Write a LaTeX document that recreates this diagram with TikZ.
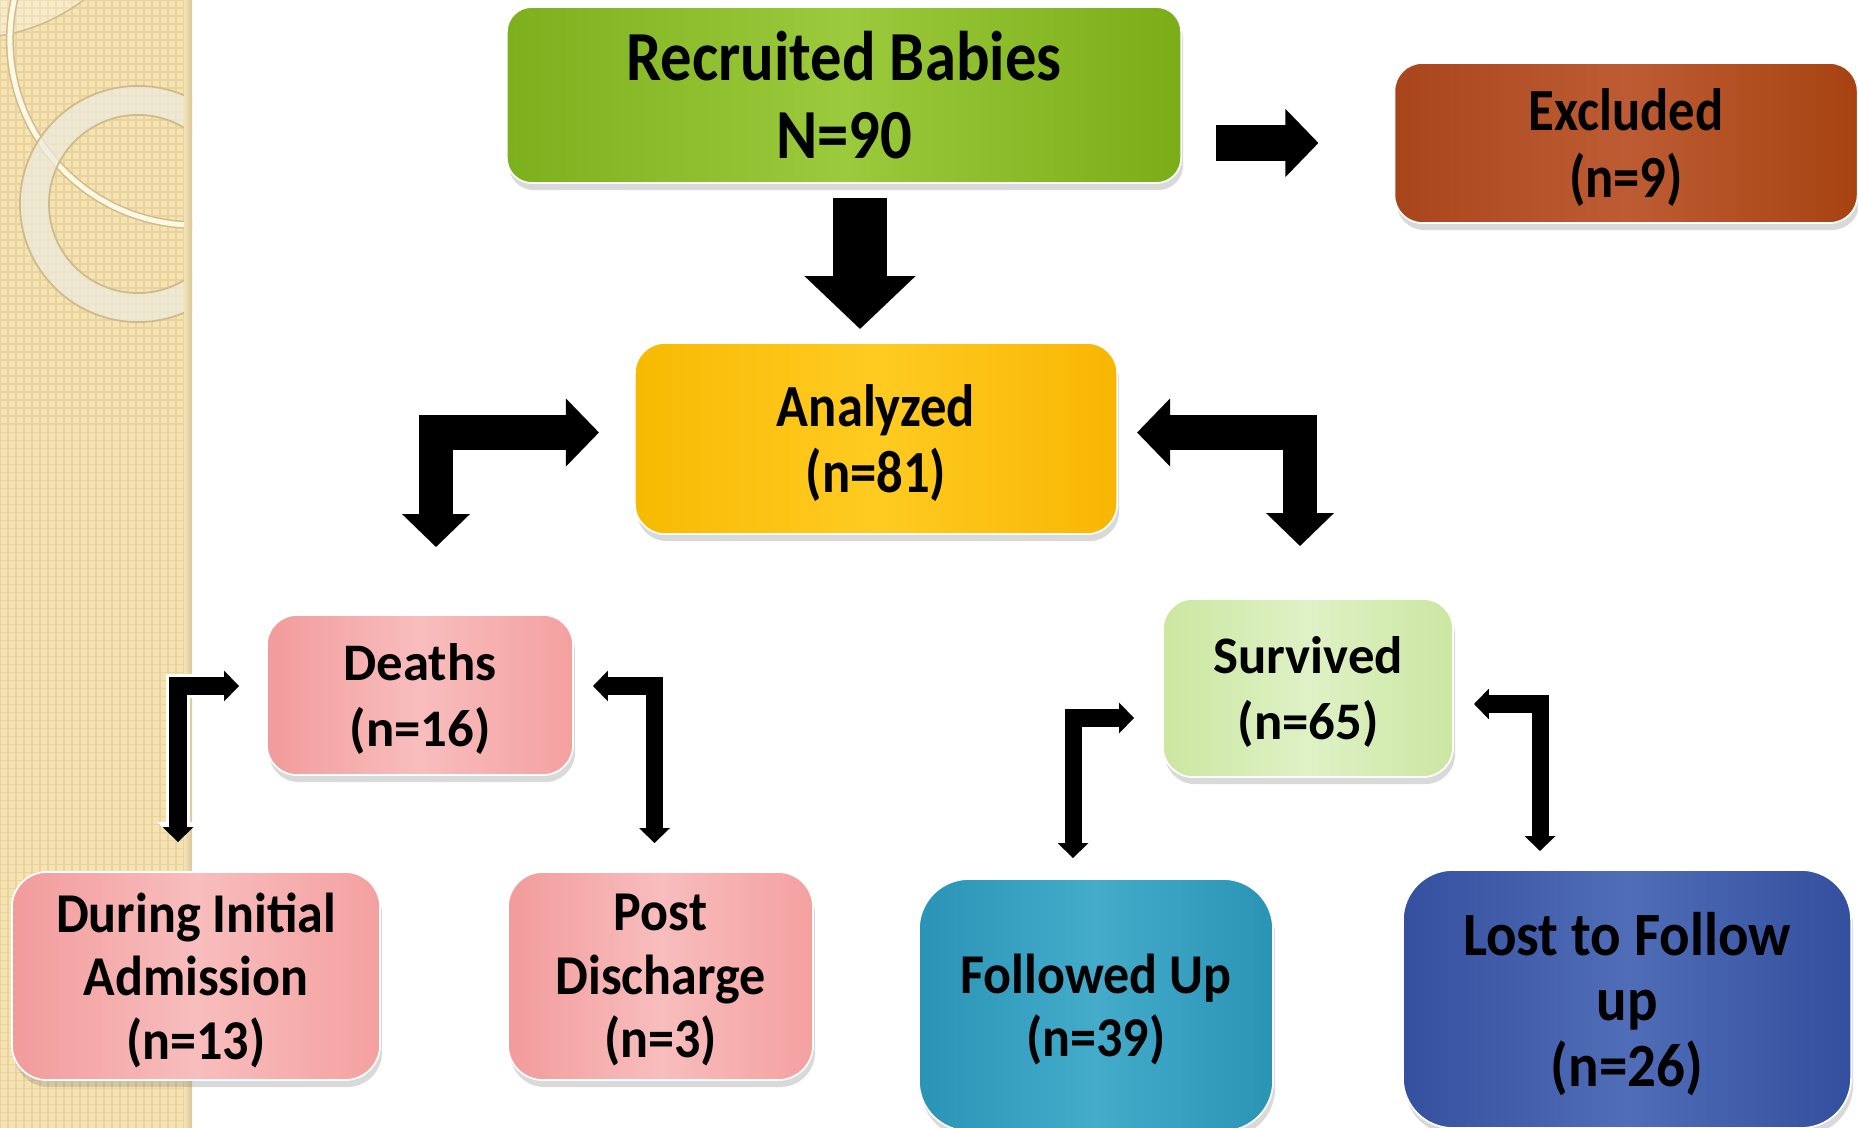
\documentclass[tikz,border=0pt]{standalone}
\usepackage{fontspec}
\setmainfont{Carlito}
\newfontfamily\carrec{Carlito}[FakeStretch=0.89]
\newfontfamily\carmid{Carlito}[FakeStretch=0.88]
\newfontfamily\carlow{Carlito}[FakeStretch=0.925]
\usetikzlibrary{arrows.meta}
\usetikzlibrary{calc}
\usetikzlibrary{shadows}

\definecolor{stripbg}{HTML}{F5E3B3}
\definecolor{stripline}{HTML}{E9D29C}
\definecolor{stripedge}{HTML}{D8C79C}
\definecolor{ringedge}{HTML}{CDBB8C}
\definecolor{ringcream}{HTML}{FFF8E2}
\definecolor{ringfill}{HTML}{EEEADD}

\definecolor{recl}{HTML}{7DB01D}
\definecolor{recm}{HTML}{9BCA3C}
\definecolor{recr}{HTML}{7AAD18}
\definecolor{excl}{HTML}{A9451B}
\definecolor{excm}{HTML}{BD5C34}
\definecolor{excr}{HTML}{A74311}
\definecolor{anal}{HTML}{F7BA02}
\definecolor{anam}{HTML}{FFCB22}
\definecolor{anar}{HTML}{F8B602}
\definecolor{pinkl}{HTML}{F29B9B}
\definecolor{pinkm}{HTML}{F8BDBD}
\definecolor{pinkr}{HTML}{F5A0A0}
\definecolor{survl}{HTML}{CBE7A0}
\definecolor{survm}{HTML}{DFF1C6}
\definecolor{survr}{HTML}{CBE7A1}
\definecolor{folll}{HTML}{2A94B6}
\definecolor{follm}{HTML}{44ABCA}
\definecolor{follr}{HTML}{2A94B5}
\definecolor{lostl}{HTML}{35509E}
\definecolor{lostm}{HTML}{506DB8}
\definecolor{lostr}{HTML}{334F9D}

\newcommand{\fontrec}{\fontsize{20pt}{22pt}\selectfont\carrec\bfseries}
\newcommand{\fontmid}{\fontsize{17pt}{18.8pt}\selectfont\carmid\bfseries}
\newcommand{\fontsub}{\fontsize{15pt}{18.8pt}\selectfont\bfseries}
\newcommand{\fontlow}{\fontsize{16pt}{18pt}\selectfont\carlow\bfseries}
\newcommand{\fontlost}{\fontsize{17.5pt}{18.6pt}\selectfont\carlow\bfseries}

\newlength{\fatw}
\setlength{\fatw}{0.34cm}
\newlength{\thinw}
\setlength{\thinw}{0.17cm}

\tikzset{
  box/.style={align=center, inner sep=0pt, text depth=0pt, draw=white, line width=0.5pt,
    drop shadow={opacity=0.3, shadow xshift=0.02cm, shadow yshift=-0.07cm}},
  shadegreen/.style={left color=recl, right color=recr, middle color=recm},
  shaderust/.style={left color=excl, right color=excr, middle color=excm},
  shadegold/.style={left color=anal, right color=anar, middle color=anam},
  shadepink/.style={left color=pinkl, right color=pinkr, middle color=pinkm},
  shadelime/.style={left color=survl, right color=survr, middle color=survm},
  shadeteal/.style={left color=folll, right color=follr, middle color=follm},
  shadenavy/.style={left color=lostl, right color=lostr, middle color=lostm},
  stripgrid/.style={draw=stripline, line width=0.015cm, step=0.08cm},
  bigdown/.style={line width=0.54cm, -{Triangle[length=0.53cm,width=1.08cm]}},
  fatone/.style={line width=0.35cm, -{Triangle[length=0.33cm,width=0.66cm]}},
  fatbent/.style={line width=\fatw, {Triangle[length=0.33cm,width=0.66cm]}-{Triangle[length=0.33cm,width=0.66cm]}},
  thinbent/.style={line width=\thinw, {Triangle[length=0.15cm,width=0.30cm]}-{Triangle[length=0.15cm,width=0.30cm]}},
  halo/.style={draw=white, line width=0.23cm, {Triangle[length=0.2cm,width=0.40cm]}-{Triangle[length=0.2cm,width=0.40cm]}}
}

\begin{document}
\begin{tikzpicture}[x=0.01cm, y=-0.01cm]
\useasboundingbox (0,0) rectangle (1858,1128);

% side strip
\fill[stripbg] (0,0) rectangle (192,1128);
\draw[stripgrid] (0,0) grid (190,1128);
\begin{scope}
\clip (0,0) rectangle (192,1128);
\fill[white, opacity=0.3] (-30,-150) circle[radius=1.88cm];
\draw[ringedge, line width=0.4pt] (-30,-150) circle[radius=1.88cm];
\draw[ringedge, line width=0.08cm] (195,40) circle[radius=1.85cm];
\draw[ringcream, line width=0.05cm] (195,40) circle[radius=1.85cm];
\fill[ringfill, opacity=0.75, even odd rule] (138,204) circle[radius=1.18cm] (138,204) circle[radius=0.89cm];
\draw[ringedge, line width=0.5pt] (138,204) circle[radius=1.18cm] (138,204) circle[radius=0.89cm];
\end{scope}
\fill[left color=stripbg, right color=stripedge] (184,0) rectangle (192,1128);

% boxes
\node[box, shadegreen, minimum width=6.74cm, minimum height=1.76cm, rounded corners=0.25cm, font=\fontrec] (recruited) at (844,95) {Recruited Babies\\N=90};
\node[box, shaderust, minimum width=4.63cm, minimum height=1.60cm, rounded corners=0.28cm, font=\fontmid] (excluded) at (1626,143) {Excluded\\(n=9)};
\node[box, shadegold, minimum width=4.82cm, minimum height=1.91cm, rounded corners=0.3cm, font=\fontmid] (analyzed) at (876,438.5) {Analyzed\\(n=81)};
\node[box, shadepink, minimum width=3.06cm, minimum height=1.60cm, rounded corners=0.3cm, font=\fontsub] (deaths) at (420,695) {Deaths\\(n=16)};
\node[box, shadelime, minimum width=2.90cm, minimum height=1.78cm, rounded corners=0.3cm, font=\fontsub] (survived) at (1308,688) {Survived\\(n=65)};
\node[box, shadepink, minimum width=3.68cm, minimum height=2.08cm, rounded corners=0.35cm, font=\fontlow] (during) at (196,976) {During Initial\\Admission\\(n=13)};
\node[box, shadepink, minimum width=3.05cm, minimum height=2.08cm, rounded corners=0.35cm, font=\fontlow] (post) at (660.5,976) {Post\\Discharge\\(n=3)};
\node[box, shadeteal, minimum width=3.54cm, minimum height=2.52cm, rounded corners=0.5cm, font=\fontlow] (followed) at (1096,1005) {Followed Up\\(n=39)};
\node[box, shadenavy, minimum width=4.48cm, minimum height=2.58cm, rounded corners=0.5cm, font=\fontlost] (lost) at (1627,999) {Lost to Follow\\up\\(n=26)};

% arrows
\draw[bigdown] ($(recruited.south)+(16,14)$) -- ($(analyzed.north)+(-16,-13)$);
\draw[fatone] ($(recruited.east |- excluded.west)+(34,0)$) -- ($(excluded.west)+(-75,0)$);
\draw[fatbent] ($(analyzed.west)+(-35,-6)$) -| ($(deaths.north)+(16,-67)$);
\draw[fatbent] ($(analyzed.east)+(19,-6)$) -| ($(survived.north)+(-8,-52)$);
\draw[halo] ($(deaths.west)+(-27,-9)$) -| ($(during.north)+(-18,-29)$);
\draw[thinbent] ($(deaths.west)+(-27,-9)$) -| ($(during.north)+(-18,-29)$);
\draw[thinbent] ($(deaths.east)+(19,-9)$) -| ($(post.north)+(-6,-28)$);
\draw[thinbent] ($(survived.west)+(-28,30)$) -| ($(followed.north)+(-23,-20)$);
\draw[thinbent] ($(survived.east)+(20,16)$) -| ($(lost.north)+(-87,-18)$);
\end{tikzpicture}
\end{document}
